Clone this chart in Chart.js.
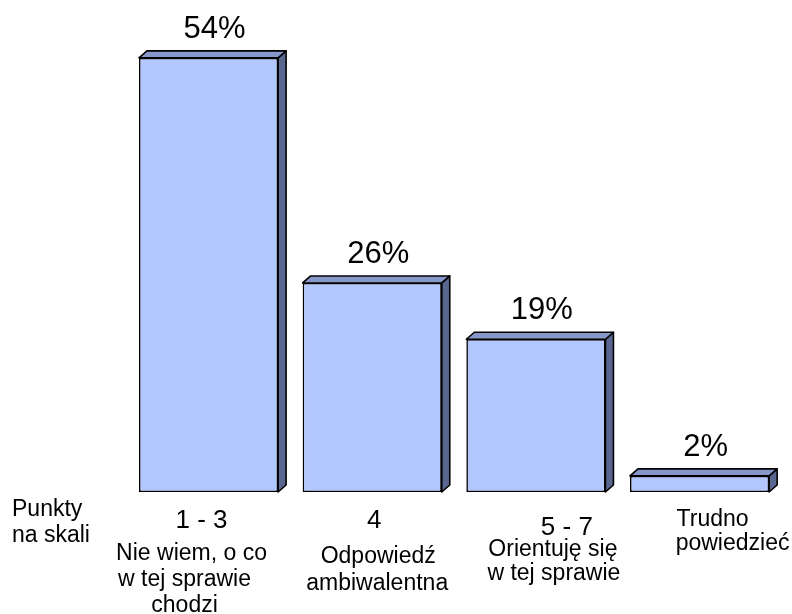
<!DOCTYPE html>
<html>
<head>
<meta charset="utf-8">
<script src="https://cdn.jsdelivr.net/npm/chart.js@4/dist/chart.umd.min.js"></script>
<style>
    html, body { margin: 0; padding: 0; background: #ffffff; }
    #wrap { width: 792px; height: 614px; }
</style>
</head>
<body>
<div id="wrap"><canvas id="barChart" width="792" height="614"></canvas></div>
<script>
// Chart data
const categories = ['1 - 3', '4', '5 - 7', 'Trudno powiedzieć'];
const values = [54, 26, 19, 2];
const rangeLabels = ['1 - 3', '4', '5 - 7', ''];
const descLabels = [
    ['Nie wiem, o co', 'w tej sprawie', 'chodzi'],
    ['Odpowiedź', 'ambiwalentna'],
    ['Orientuję się', 'w tej sprawie'],
    ['Trudno', 'powiedzieć']
];
const axisTitle = ['Punkty', 'na skali'];

const FONT = "Arial, 'Liberation Sans', sans-serif";
const FRONT = '#b3c7ff';
const TOP = '#8797c9';
const SIDE = '#59668f';
const DEPTH_X = 8;
const DEPTH_Y = 7;

// Label placement per column: offsets from bar centre / chart bottom
const labelLayout = [
    { rangeDx: -7, rangeY: 36, descDx: [-17, -24, -24], descY: [68, 94, 120] },
    { rangeDx: 2, rangeY: 36, descDx: [6, 5], descY: [71, 98] },
    { rangeDx: 31, rangeY: 43, descDx: [17, 18], descY: [64, 88] },
    { rangeDx: 0, rangeY: 0, descDx: [13, 33], descY: [34, 58] }
];

// Draws the 3D top/side faces, the value labels and the category texts
const bar3dPlugin = {
    id: 'bar3d',
    afterDatasetsDraw(chart) {
        const ctx = chart.ctx;
        const meta = chart.getDatasetMeta(0);
        const bottom = chart.chartArea.bottom;

        ctx.save();
        ctx.lineWidth = 1.6;
        ctx.strokeStyle = '#000000';
        ctx.lineJoin = 'round';

        meta.data.forEach((bar, i) => {
            const left = bar.x - bar.width / 2;
            const right = bar.x + bar.width / 2;
            const top = bar.y;
            const base = bar.base;

            // right side
            ctx.beginPath();
            ctx.moveTo(right, top);
            ctx.lineTo(right + DEPTH_X, top - DEPTH_Y);
            ctx.lineTo(right + DEPTH_X, base - DEPTH_Y);
            ctx.lineTo(right, base);
            ctx.closePath();
            ctx.fillStyle = SIDE;
            ctx.fill();
            ctx.stroke();

            // top face
            ctx.beginPath();
            ctx.moveTo(left, top);
            ctx.lineTo(left + DEPTH_X, top - DEPTH_Y);
            ctx.lineTo(right + DEPTH_X, top - DEPTH_Y);
            ctx.lineTo(right, top);
            ctx.closePath();
            ctx.fillStyle = TOP;
            ctx.fill();
            ctx.stroke();

            // value label
            ctx.fillStyle = '#000000';
            ctx.textAlign = 'center';
            ctx.textBaseline = 'alphabetic';
            ctx.font = '31px ' + FONT;
            ctx.fillText(values[i] + '%', bar.x + 6, top - 20);

            // category texts under the bar
            const lay = labelLayout[i];
            if (rangeLabels[i]) {
                ctx.font = '26px ' + FONT;
                ctx.fillText(rangeLabels[i], bar.x + lay.rangeDx, bottom + lay.rangeY);
            }
            ctx.font = '23px ' + FONT;
            descLabels[i].forEach((line, j) => {
                ctx.fillText(line, bar.x + lay.descDx[j], bottom + lay.descY[j]);
            });
        });

        // axis caption at the left
        ctx.textAlign = 'left';
        ctx.font = '23px ' + FONT;
        ctx.fillText(axisTitle[0], 12, bottom + 24);
        ctx.fillText(axisTitle[1], 12, bottom + 50);
        ctx.restore();
    }
};

const chart = new Chart(document.getElementById('barChart').getContext('2d'), {
    type: 'bar',
    data: {
        labels: categories,
        datasets: [{
            data: values,
            backgroundColor: FRONT,
            borderColor: '#000000',
            borderWidth: 1.6,
            borderSkipped: false,
            categoryPercentage: 1.0,
            barPercentage: 0.85
        }]
    },
    options: {
        responsive: false,
        animation: false,
        devicePixelRatio: 1,
        layout: {
            padding: { left: 126.7, right: 10.6, top: 9.6, bottom: 122 }
        },
        plugins: {
            legend: { display: false },
            tooltip: { enabled: false }
        },
        scales: {
            x: { display: false, grid: { display: false } },
            y: { display: false, min: 0, max: 60, grid: { display: false } }
        }
    },
    plugins: [bar3dPlugin]
});
</script>
</body>
</html>
